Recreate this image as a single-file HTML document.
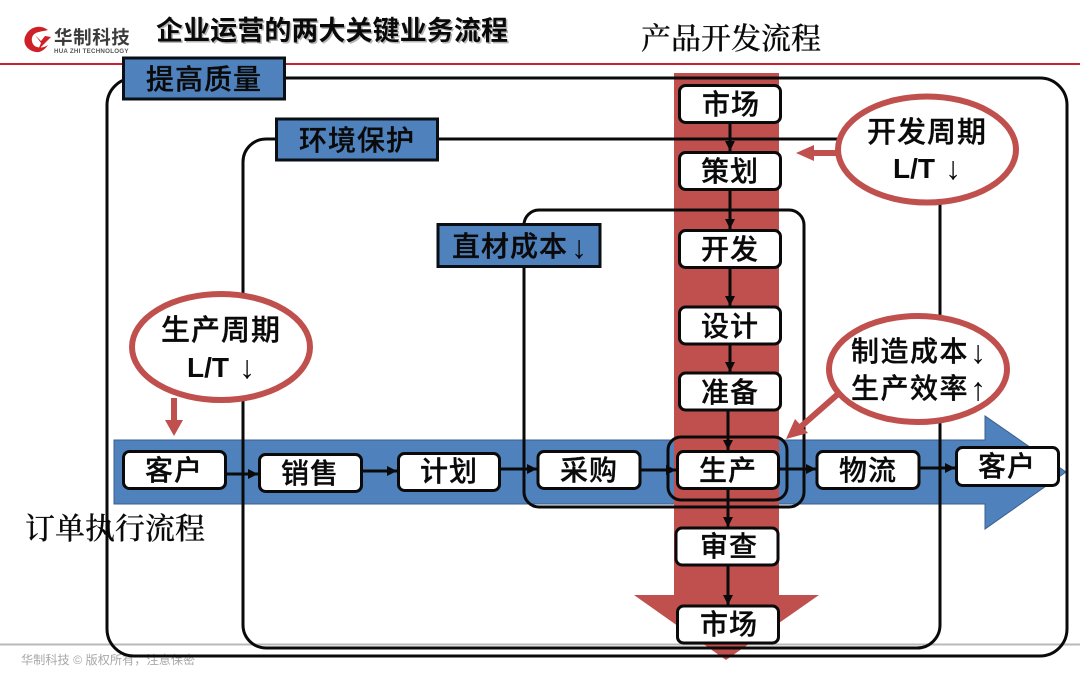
<!DOCTYPE html>
<html lang="zh">
<head>
<meta charset="utf-8">
<title>企业运营的两大关键业务流程</title>
<style>
html,body{margin:0;padding:0;background:#fff;width:1080px;height:675px;overflow:hidden}
svg{display:block}
text{font-family:"Liberation Sans","Noto Sans CJK SC",sans-serif;fill:#0a0a0a}
.b{font-size:28px;font-weight:500;text-anchor:middle;letter-spacing:1px;stroke:#0a0a0a;stroke-width:.3px}
.serif{font-family:"Liberation Serif","Noto Serif CJK SC",serif;font-size:30px;font-weight:500;stroke:#0a0a0a;stroke-width:.2px}
.lab{font-size:28px;font-weight:500;text-anchor:middle;letter-spacing:1px;stroke:#0a0a0a;stroke-width:.3px}
.free{font-size:28px;font-weight:500;letter-spacing:1px;stroke:#0a0a0a;stroke-width:.3px}
.arr{font-family:"Liberation Serif",serif;font-weight:400;stroke:none;text-anchor:middle;font-size:32px}
.node{fill:#fff;stroke:#0a0a0a;stroke-width:3}
.tag{fill:#4f81bd;stroke:#0a0f16;stroke-width:3}
.frame{fill:none;stroke:#0a0a0a;stroke-width:3}
.ell{fill:#fff;stroke:#c0504d;stroke-width:6}
.ln{stroke:#0a0a0a;stroke-width:3;fill:none}
</style>
</head>
<body>
<svg width="1080" height="675" viewBox="0 0 1080 675" xmlns="http://www.w3.org/2000/svg">
<defs>
<marker id="ah" markerUnits="userSpaceOnUse" markerWidth="12" markerHeight="12" refX="10" refY="5" orient="auto"><path d="M0 0L10 5L0 10Z" fill="#0a0a0a"/></marker>
</defs>

<!-- header -->
<line x1="0" y1="64" x2="1080" y2="64" stroke="#c8202c" stroke-width="2"/>
<path d="M48 30C39 23 28 28 25 37C22 46 31 53 39 52C43 51 46 48 48 45C44 48 36 49 33 44C30 38 33 33 39 32C42 31 45 31 48 30Z" fill="#cf2027"/>
<path d="M35 35L41 41L45 36L51 37L44 44L38 50L41 43Z" fill="#cf2027"/>
<text x="54" y="44" style="font-size:18.5px;font-weight:700;fill:#3c3c3c;letter-spacing:.6px">华制科技</text>
<text x="54" y="53" style="font-size:6.2px;font-weight:700;fill:#555;letter-spacing:.25px">HUA ZHI TECHNOLOGY</text>
<text x="156" y="40" style="font-size:27px;font-weight:700;letter-spacing:.08px;fill:#b5b5b5" transform="translate(1.5 1.5)">企业运营的两大关键业务流程</text>
<text x="156" y="40" style="font-size:27px;font-weight:700;letter-spacing:.08px">企业运营的两大关键业务流程</text>
<text x="641" y="49" class="serif">产品开发流程</text>

<!-- footer -->
<line x1="0" y1="644.5" x2="1080" y2="644.5" stroke="#b9b9b9" stroke-width="2"/>
<text x="21" y="664" style="font-size:12.2px;fill:#a8a8a8">华制科技 © 版权所有，注意保密</text>

<!-- big flow arrows -->
<polygon points="114,440 985,440 985,416 1066,472 985,529 985,504 114,504" fill="#4f81bd" stroke="#3a5f8c" stroke-width="1"/>
<polygon points="674,73 779,73 779,595 819,595 726,660 634,595 674,595" fill="#c0504d"/>

<!-- frames -->
<rect x="107" y="78" width="960" height="578" rx="27" class="frame"/>
<rect x="243" y="139" width="697" height="509" rx="23" class="frame"/>
<rect x="524" y="210" width="280" height="297" rx="15" class="frame"/>
<rect x="668" y="437" width="119" height="63" rx="13" class="frame"/>

<!-- connectors -->
<g class="ln">
<line x1="730" y1="123" x2="730" y2="151" marker-end="url(#ah)"/>
<line x1="730" y1="190" x2="730" y2="229" marker-end="url(#ah)"/>
<line x1="730" y1="268" x2="730" y2="306" marker-end="url(#ah)"/>
<line x1="730" y1="344" x2="730" y2="372" marker-end="url(#ah)"/>
<line x1="728" y1="410" x2="728" y2="450" marker-end="url(#ah)"/>
<line x1="728" y1="489" x2="728" y2="527" marker-end="url(#ah)"/>
<line x1="728" y1="565" x2="728" y2="605" marker-end="url(#ah)"/>
<line x1="226" y1="474" x2="258" y2="474" marker-end="url(#ah)"/>
<line x1="362" y1="471" x2="397" y2="471" marker-end="url(#ah)"/>
<line x1="500" y1="469" x2="537" y2="469" marker-end="url(#ah)"/>
<line x1="640" y1="470" x2="676" y2="470" marker-end="url(#ah)"/>
<line x1="779" y1="469" x2="816" y2="469" marker-end="url(#ah)"/>
<line x1="919" y1="468" x2="955" y2="468" marker-end="url(#ah)"/>
</g>

<!-- process nodes -->
<g>
<rect x="679.5" y="85.5" width="101" height="37" rx="6" class="node"/>
<rect x="679.5" y="152.5" width="101" height="37" rx="6" class="node"/>
<rect x="679.5" y="230.5" width="101" height="37" rx="6" class="node"/>
<rect x="679.5" y="307" width="101" height="37" rx="6" class="node"/>
<rect x="679.5" y="373" width="101" height="37" rx="6" class="node"/>
<rect x="677.5" y="451.5" width="101" height="37" rx="6" class="node"/>
<rect x="676" y="528" width="102" height="37" rx="6" class="node"/>
<rect x="677.5" y="606" width="101" height="37" rx="6" class="node"/>
<rect x="123.5" y="451.5" width="102" height="37" rx="6" class="node"/>
<rect x="259.5" y="454.5" width="102" height="37" rx="6" class="node"/>
<rect x="398.5" y="453.5" width="101" height="37" rx="6" class="node"/>
<rect x="538" y="451.5" width="102" height="37" rx="6" class="node"/>
<rect x="817" y="451.5" width="102" height="37" rx="6" class="node"/>
<rect x="956.5" y="447.5" width="102" height="38" rx="6" class="node"/>
</g>
<g>
<text x="731" y="114" class="b">市场</text>
<text x="730" y="181" class="b">策划</text>
<text x="730" y="259" class="b">开发</text>
<text x="730" y="336" class="b">设计</text>
<text x="730" y="402" class="b">准备</text>
<text x="728" y="480" class="b">生产</text>
<text x="729" y="556" class="b">审查</text>
<text x="729" y="634" class="b">市场</text>
<text x="174" y="480" class="b">客户</text>
<text x="310" y="483" class="b">销售</text>
<text x="449" y="481" class="b">计划</text>
<text x="589" y="480" class="b">采购</text>
<text x="868" y="480" class="b">物流</text>
<text x="1007" y="476" class="b">客户</text>
</g>

<!-- tags -->
<rect x="123.5" y="58" width="161" height="41" class="tag"/>
<text x="204" y="89" class="lab">提高质量</text>
<rect x="276.5" y="119" width="161" height="41" class="tag"/>
<text x="357" y="150" class="lab">环境保护</text>
<rect x="438" y="224.5" width="162" height="42" class="tag"/>
<text x="452" y="256" class="free">直材成本</text>
<text x="579" y="258" class="arr">↓</text>

<text x="25" y="539" class="serif">订单执行流程</text>

<!-- red arrows -->
<line x1="842" y1="153" x2="808" y2="153" stroke="#c0504d" stroke-width="6"/>
<polygon points="796,153 814,145 814,161" fill="#c0504d"/>
<line x1="174" y1="398" x2="174" y2="422" stroke="#c0504d" stroke-width="6"/>
<polygon points="174,436 165,420 183,420" fill="#c0504d"/>
<line x1="838" y1="394" x2="797" y2="430" stroke="#c0504d" stroke-width="6"/>
<polygon points="786,439 795,419 808,433" fill="#c0504d"/>

<!-- ellipses -->
<ellipse cx="927" cy="149.5" rx="89" ry="53" class="ell"/>
<text x="927" y="142" class="lab" style="font-size:29px">开发周期</text>
<text x="893" y="178" style="font-size:28px;font-weight:700">L/T</text>
<text x="953" y="179" class="arr">↓</text>

<ellipse cx="918" cy="369" rx="89" ry="53" class="ell"/>
<text x="851" y="361" class="free" style="letter-spacing:1.5px">制造成本</text>
<text x="978" y="363" class="arr">↓</text>
<text x="851" y="398" class="free" style="letter-spacing:1.5px">生产效率</text>
<text x="978" y="400" class="arr">↑</text>

<ellipse cx="221" cy="347" rx="89" ry="53" class="ell"/>
<text x="221" y="340" class="lab" style="font-size:29px">生产周期</text>
<text x="187" y="377" style="font-size:28px;font-weight:700">L/T</text>
<text x="247" y="378" class="arr">↓</text>
</svg>
</body>
</html>
